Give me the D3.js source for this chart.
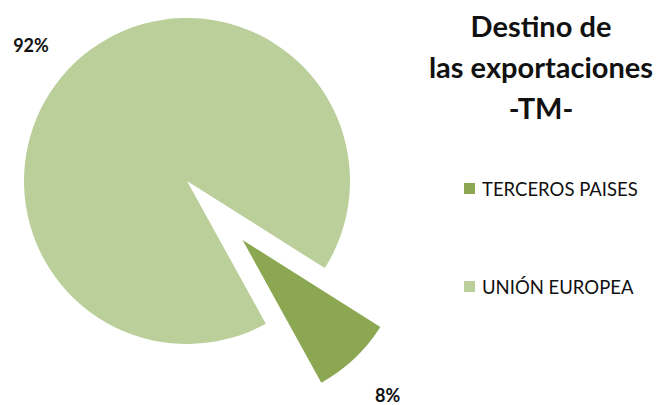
<!doctype html>
<html>
<head>
  <title>Destino de las exportaciones</title>
  <script src="https://d3js.org/d3.v7.min.js"></script>
  <style>
    body { margin: 0; background: #fff; }
    text { font-family: 'Lato', 'Open Sans', sans-serif; }
  </style>
</head>
<body>
  <svg width="663" height="405"></svg>
  <script>
    var categories = ["TERCEROS PAISES", "UNIÓN EUROPEA"];
    var values = [8, 92];
    var labels = ["8%", "92%"];
    var colors = ["#8BA751", "#BACF99"];
    var titleLines = ["Destino de", "las exportaciones", "-TM-"];

    var svg = d3.select("svg");
    var cx = 187, cy = 181, radius = 163;
    var explode = 81;
    var rot = 122.3 * Math.PI / 180;
    // small nudges of the data labels, like Excel's "best fit"
    var nudge = [[1, 3], [-12, 17]];

    var pie = d3.pie().sort(null).value(d => d)
      .startAngle(rot).endAngle(rot + 2 * Math.PI);
    var arcs = pie(values);
    var arc = d3.arc().innerRadius(0).outerRadius(radius);

    // offset of each slice (only the first one is pulled out)
    function offset(d, i) {
      var a = (d.startAngle + d.endAngle) / 2;
      var e = i === 0 ? explode : 0;
      return [Math.sin(a) * e, -Math.cos(a) * e];
    }

    var g = svg.append("g").attr("transform", "translate(" + cx + "," + cy + ")");

    g.selectAll("path")
      .data(arcs)
      .enter()
      .append("path")
      .attr("d", arc)
      .attr("transform", (d, i) => "translate(" + offset(d, i) + ")")
      .style("fill", (d, i) => colors[i]);

    g.selectAll("text.lbl")
      .data(arcs)
      .enter()
      .append("text")
      .attr("class", "lbl")
      .attr("x", (d, i) => offset(d, i)[0] + Math.sin((d.startAngle + d.endAngle) / 2) * 210 + nudge[i][0])
      .attr("y", (d, i) => offset(d, i)[1] - Math.cos((d.startAngle + d.endAngle) / 2) * 210 + nudge[i][1])
      .attr("dy", "0.36em")
      .attr("text-anchor", "middle")
      .style("font-size", "18px")
      .style("font-weight", "bold")
      .style("fill", "#111")
      .text((d, i) => labels[i]);

    // title
    svg.selectAll("text.title")
      .data(titleLines)
      .enter()
      .append("text")
      .attr("class", "title")
      .attr("x", 541)
      .attr("y", (d, i) => 37 + i * 41)
      .attr("text-anchor", "middle")
      .style("font-size", "29px")
      .style("font-weight", "bold")
      .style("fill", "#111")
      .text(d => d);

    // legend
    var leg = svg.selectAll("g.leg")
      .data(categories)
      .enter()
      .append("g")
      .attr("class", "leg")
      .attr("transform", (d, i) => "translate(464," + (183 + i * 98) + ")");

    leg.append("rect")
      .attr("width", 11)
      .attr("height", 11)
      .style("fill", (d, i) => colors[i]);

    leg.append("text")
      .attr("x", 18)
      .attr("y", 13)
      .style("font-size", "18.5px")
      .style("fill", "#111")
      .text(d => d);
  </script>
</body>
</html>
